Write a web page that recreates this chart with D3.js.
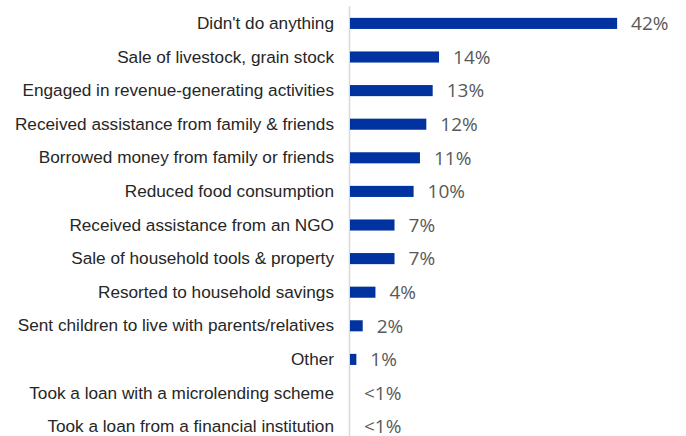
<!DOCTYPE html>
<html>
<head>
<meta charset="utf-8">
<script src="https://cdn.jsdelivr.net/npm/d3@7"></script>
<style>
  html, body { margin: 0; padding: 0; background: #fff; }
  svg { display: block; }
</style>
</head>
<body>
<svg id="chart" width="686" height="436"></svg>
<script>
// Coping strategies, share of households (%)
const categories = [
  "Didn't do anything",
  "Sale of livestock, grain stock",
  "Engaged in revenue-generating activities",
  "Received assistance from family & friends",
  "Borrowed money from family or friends",
  "Reduced food consumption",
  "Received assistance from an NGO ",
  "Sale of household tools & property",
  "Resorted to household savings",
  "Sent children to live with parents/relatives",
  "Other",
  "Took a loan with a microlending scheme",
  "Took a loan from a financial institution"
];
const values = [42, 14, 13, 12, 11, 10, 7, 7, 4, 2, 1, 0, 0];
const valueLabels = ["42%", "14%", "13%", "12%", "11%", "10%", "7%", "7%", "4%", "2%", "1%", "<1%", "<1%"];

const width = 686, height = 436;
const axisX = 350;

const svg = d3.select("#chart");

const x = d3.scaleLinear().domain([0, 50]).range([axisX, axisX + 318]);
const y = d3.scaleBand()
  .domain(categories)
  .range([6.6, 443.4])
  .paddingInner(0.67)
  .paddingOuter(0.335);

// vertical category axis line
svg.append("line")
  .attr("x1", axisX - 0.5).attr("x2", axisX - 0.5)
  .attr("y1", 6).attr("y2", height)
  .attr("stroke", "#d9d9d9").attr("stroke-width", 1.5);

// category labels
const yAxis = d3.axisLeft(y).tickSize(0).tickPadding(16);
const gy = svg.append("g").attr("transform", `translate(${axisX},0)`).call(yAxis);
gy.select(".domain").remove();
gy.selectAll("text")
  .attr("font-family", "Liberation Sans, Arial, sans-serif")
  .attr("font-size", 17.2)
  .attr("fill", "#262626");

// bars
svg.append("g").selectAll("rect")
  .data(values)
  .join("rect")
  .attr("x", x(0))
  .attr("y", (d, i) => y(categories[i]))
  .attr("width", d => x(d) - x(0))
  .attr("height", y.bandwidth())
  .attr("fill", "#0033a0");

// value labels
svg.append("g").selectAll("text")
  .data(values)
  .join("text")
  .attr("x", d => x(d) + 14)
  .attr("y", (d, i) => y(categories[i]) + y.bandwidth() / 2)
  .attr("dy", "0.36em")
  .attr("font-family", "Open Sans, sans-serif")
  .attr("font-size", 19)
  .attr("fill", "#595959")
  .text((d, i) => valueLabels[i]);
</script>
</body>
</html>
